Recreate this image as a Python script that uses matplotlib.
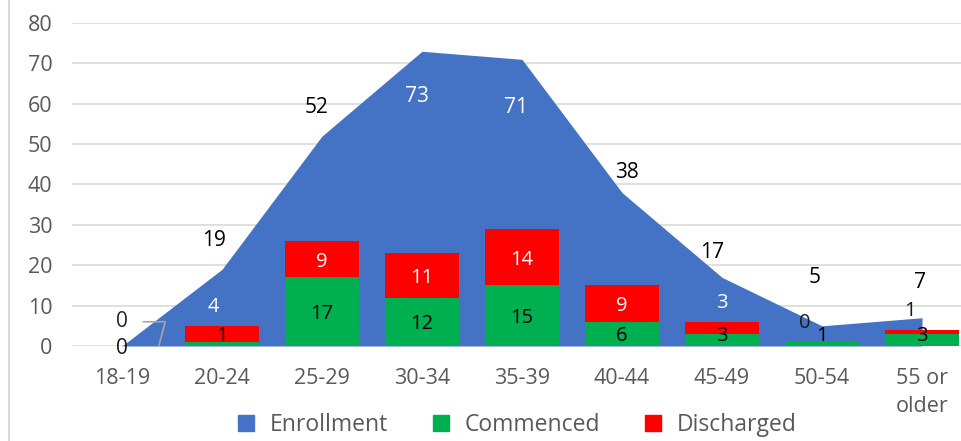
import numpy as np
import matplotlib.pyplot as plt
from matplotlib.lines import Line2D

plt.rcParams['font.family'] = ['Open Sans', 'DejaVu Sans']

categories = ['18-19', '20-24', '25-29', '30-34', '35-39', '40-44', '45-49', '50-54', '55 or\nolder']
enrollment = [0, 19, 52, 73, 71, 38, 17, 5, 7]
commenced = [0, 1, 17, 12, 15, 6, 3, 1, 3]
discharged = [0, 4, 9, 11, 14, 9, 3, 0, 1]

BLUE = '#4472C4'
GREEN = '#00B050'
RED = '#FF0000'
GRAY = '#595959'

x = np.arange(len(categories))
enr = np.array(enrollment)
com = np.array(commenced)
dis = np.array(discharged)

fig = plt.figure(figsize=(9.61, 4.41), dpi=100)
# plot area runs past the right edge of the picture, like the cropped original
ax = fig.add_axes([72/961, 1-346/441, 900/961, (346-23)/441])

ax.fill_between(x, 0, enr, color=BLUE, linewidth=0, zorder=2)
ax.bar(x, com, width=0.74, color=GREEN, zorder=3)
ax.bar(x, dis, width=0.74, bottom=com, color=RED, zorder=3)

ax.set_ylim(0, 80)
ax.set_xlim(-0.5, 8.5)
ax.set_yticks(range(0, 81, 10))
ax.yaxis.grid(True, color='#d9d9d9', linewidth=1.2)
ax.set_axisbelow(True)
for s in ax.spines.values():
    s.set_visible(False)
ax.set_xticks(x)
ax.set_xticklabels(categories, linespacing=1.45)
ax.tick_params(axis='x', length=0, pad=16, labelsize=15.5, colors=GRAY)
ax.tick_params(axis='y', length=0, pad=14, labelsize=15.5, colors=GRAY)

# enrollment labels, pixel offsets from the point
enr_off = [(0, -2), (-8, 29), (-5, 29), (-5, -45), (-6, -48), (5, 20), (-10, 25), (-7, 48), (-2, 35)]
enr_col = ['#1a1a1a', 'black', 'black', 'white', 'white', 'black', 'black', 'black', 'black']
for i, v in enumerate(enrollment):
    ax.annotate(str(v), (x[i], v), xytext=enr_off[i], textcoords='offset pixels',
                ha='center', va='center', fontsize=15, color=enr_col[i], zorder=6,
                annotation_clip=False)

# commenced labels
for i, v in enumerate(commenced):
    if i == 0:
        continue
    y = max(v / 2 - 0.5, 2.4)
    ax.text(x[i], y, str(v), ha='center', va='center', fontsize=14.5, color='black', zorder=5)

# discharged labels
small_dx = {1: -0.09, 7: -0.17, 8: -0.12}
for i, v in enumerate(discharged):
    if i == 0:
        ax.annotate(str(v), (x[i] + 0.37, 0.2), xytext=(x[i], 6), ha='center', va='center',
                    fontsize=15, color='#262626', zorder=5, annotation_clip=False,
                    arrowprops=dict(arrowstyle='-', color='#a6a6a6', lw=1.2,
                                    shrinkA=9, shrinkB=0,
                                    connectionstyle='angle,angleA=0,angleB=75,rad=0'))
        continue
    if v >= 5:
        y, col = com[i] + v / 2 - 0.7, 'white'
    else:
        y = com[i] + v + 4.7
        col = 'white' if y < enr[i] else '#1a1a1a'
    ax.text(x[i] + small_dx.get(i, 0), y, str(v), ha='center', va='center',
            fontsize=14.5, color=col, zorder=5)

# legend
handles = [Line2D([], [], marker='s', linestyle='none', markersize=11, color=c)
           for c in (BLUE, GREEN, RED)]
fig.legend(handles, ['Enrollment', 'Commenced', 'Discharged'], loc='center',
           bbox_to_anchor=(510/961, 1-425/441), ncol=3, frameon=False,
           fontsize=16.5, labelcolor=GRAY, handletextpad=0.05, columnspacing=1.3)

# chart border on the left
fig.add_artist(Line2D([9/961, 9/961], [0, 1], color='#d9d9d9', lw=1.5, transform=fig.transFigure))

fig.savefig('out.png', dpi=100)
